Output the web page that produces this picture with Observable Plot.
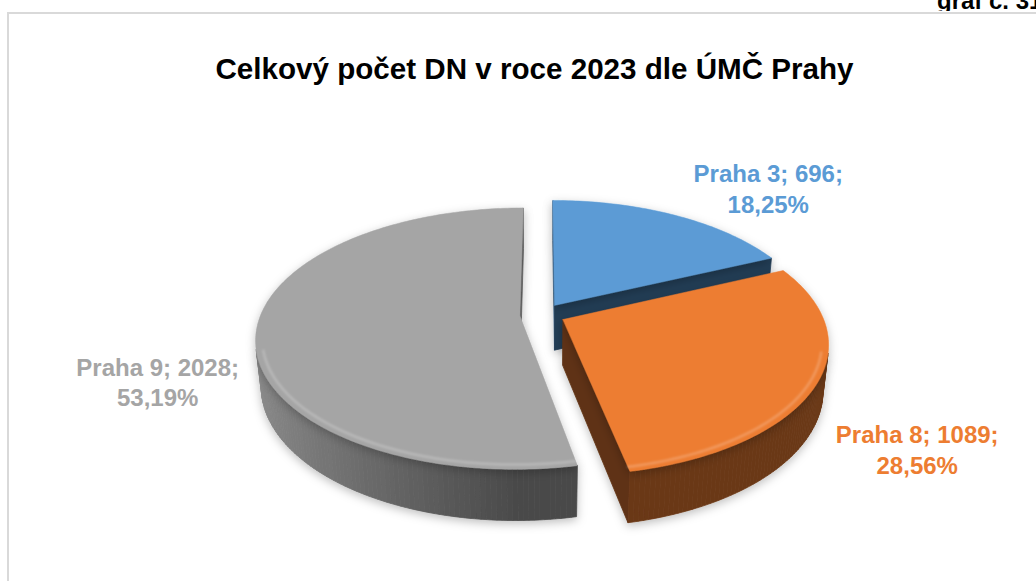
<!DOCTYPE html>
<html><head><meta charset="utf-8">
<script src="https://cdn.jsdelivr.net/npm/d3@7"></script>
<script src="https://cdn.jsdelivr.net/npm/@observablehq/plot@0.6"></script>
<style>
html,body{margin:0;padding:0;background:#fff;}
body{width:1036px;height:581px;overflow:hidden;position:relative;font-family:"Liberation Sans",Arial,sans-serif;}
#box{position:absolute;left:7px;top:12px;width:1200px;height:800px;border:2px solid #d9d9d9;box-sizing:border-box;}
#note{position:absolute;left:937px;top:0;height:11px;width:120px;overflow:hidden;}
#note span{position:absolute;left:0;top:-11px;line-height:24px;font-size:24px;font-weight:bold;color:#000;white-space:nowrap;}
#chart{position:absolute;left:0;top:0;}
</style></head><body>
<div id="box"></div>
<div id="note"><span></span></div>
<div id="chart"></div>
<script>
// ---- data ----
const districts = ["Praha 3", "Praha 8", "Praha 9"];
const counts = [696, 1089, 2028];
const sliceColors = ["#5B9BD5", "#ED7D31", "#A5A5A5"];
const chartTitle = "Celkový počet DN v roce 2023 dle ÚMČ Prahy";
const pageNote = "graf č. 31";

// ---- layout / view ----
const VIEW = {sinPhi: 0.48, dist: 5, depth: 0.2, explode: 0.088, step: Math.PI / 180};
const cosPhi = Math.sqrt(1 - VIEW.sinPhi * VIEW.sinPhi);
const cam = [0, VIEW.dist * VIEW.sinPhi, VIEW.dist * cosPhi];
const labelNudge = {"Praha 3": [94, -2], "Praha 8": [100, 91], "Praha 9": [-99, 78]};
const drawOrder = ["Praha 3", "Praha 9", "Praha 8"];

document.querySelector("#note span").textContent = pageNote;

function project(p) {
  const [X, Y, Z] = p;
  const w = 1 - (Y * VIEW.sinPhi + Z * cosPhi) / VIEW.dist;
  return [X / w, -(Y * cosPhi - Z * VIEW.sinPhi) / w];
}
function facing(normal, pt) {
  const v = [cam[0] - pt[0], cam[1] - pt[1], cam[2] - pt[2]];
  return normal[0] * v[0] + normal[1] * v[1] + normal[2] * v[2] > 0;
}
function shade(color, k) {
  const c = d3.rgb(color);
  return d3.rgb(c.r * k, c.g * k, c.b * k).formatHex();
}

const total = d3.sum(counts);
const arcs = d3.pie().sort(null).value(d => d)(counts);
const fmtPct = v => (v * 100).toFixed(2).replace(".", ",") + "%";

const slices = arcs.map((a, i) => {
  const mid = (a.startAngle + a.endAngle) / 2;
  const c = [VIEW.explode * Math.sin(mid), 0, -VIEW.explode * Math.cos(mid)];
  const rim = (t, Y, r = 1) => [c[0] + r * Math.sin(t), Y, c[2] - r * Math.cos(t)];
  const H = -VIEW.depth;
  const n = Math.max(2, Math.ceil((a.endAngle - a.startAngle) / VIEW.step));
  const ts = d3.range(n + 1).map(j => a.startAngle + (a.endAngle - a.startAngle) * j / n);
  const name = districts[i];
  const col = sliceColors[i];
  const top = [], walls = [], rimLine = [];
  // top face
  const topPts = [[c[0], 0, c[2]], ...ts.map(t => rim(t, 0)), [c[0], 0, c[2]]];
  topPts.forEach(p => { const [x, y] = project(p); top.push({id: name + "-top", x, y, fill: col}); });
  // radial walls
  const radial = [[a.startAngle, a.startAngle - Math.PI / 2], [a.endAngle, a.endAngle + Math.PI / 2]];
  radial.forEach(([t, nt], k) => {
    const nrm = [Math.sin(nt), 0, -Math.cos(nt)];
    if (!facing(nrm, [c[0], H / 2, c[2]])) return;
    const q = [[c[0], 0, c[2]], rim(t, 0), rim(t, H), [c[0], H, c[2]], [c[0], 0, c[2]]];
    const back = Math.cos(t) > 0.9; // thin sliver along the back edge
    const f = shade(col, back ? 0.62 : 0.4);
    q.forEach(p => { const [x, y] = project(p); walls.push({id: name + "-rad" + k, x, y, fill: f}); });
  });
  // outer wall
  for (let j = 0; j < n; j++) {
    const tm = (ts[j] + ts[j + 1]) / 2;
    const nrm = [Math.sin(tm), 0, -Math.cos(tm)];
    if (!facing(nrm, rim(tm, H / 2))) continue;
    const f = shade(col, 0.45 + 0.4 * Math.max(0, -Math.sin(tm)));
    const q = [rim(ts[j], 0), rim(ts[j + 1], 0), rim(ts[j + 1], H), rim(ts[j], H), rim(ts[j], 0)];
    q.forEach(p => { const [x, y] = project(p); walls.push({id: name + "-w" + j, x, y, fill: f}); });
    const [hx, hy] = project(rim(ts[j], 0, 0.975));
    rimLine.push({x: hx, y: hy});
    if (j === n - 1) { const [ex, ey] = project(rim(ts[j + 1], 0, 0.975)); rimLine.push({x: ex, y: ey}); }
  }
  const [lx, ly] = project(rim(mid, 0));
  const label = {name, x: lx, y: ly, text: `${name}; ${counts[i]};\n${fmtPct(counts[i] / total)}`, color: col};
  return {name, top, walls, rimLine, label};
});

const marks = [];
drawOrder.forEach(nm => {
  const s = slices.find(d => d.name === nm);
  marks.push(Plot.line(s.walls, {x: "x", y: "y", z: "id", fill: "fill", stroke: "fill", strokeWidth: 0.8, curve: "linear"}));
  marks.push(Plot.line(s.top, {x: "x", y: "y", z: "id", fill: "fill", stroke: "fill", strokeWidth: 0.5, curve: "linear"}));
  if (s.rimLine.length) marks.push(Plot.line(s.rimLine, {x: "x", y: "y", stroke: "#ffffff", strokeOpacity: 0.22, strokeWidth: 2.5}));
});
slices.forEach(s => {
  const [dx, dy] = labelNudge[s.name];
  marks.push(Plot.text([s.label], {x: "x", y: "y", text: "text", fill: "color", dx, dy,
    textAnchor: "middle", lineAnchor: "bottom", lineHeight: 1.29, fontSize: 24, fontWeight: "bold"}));
});
marks.push(Plot.text([chartTitle], {text: d => d, frameAnchor: "top-left", dx: 534, dy: 78,
  textAnchor: "middle", lineAnchor: "bottom", fontSize: 29.6, fontWeight: "bold", fill: "#000"}));

const cx = 542, cy = 314, Sx = 259, Sy = 263;
const plot = Plot.plot({
  width: 1036, height: 581, margin: 0,
  x: {domain: [-1, 1], range: [cx - Sx, cx + Sx], axis: null},
  y: {domain: [-1, 1], range: [cy - Sy, cy + Sy], axis: null},
  color: {type: "identity"},
  style: {background: "transparent", fontFamily: "'Liberation Sans', Arial, sans-serif", overflow: "visible"},
  marks
});
document.getElementById("chart").appendChild(plot);

// soft shadow like the office chart
const svg = d3.select(plot);
const defs = svg.insert("defs", ":first-child");
const flt = defs.append("filter").attr("id", "pieShadow").attr("x", "-20%").attr("y", "-20%").attr("width", "140%").attr("height", "140%");
flt.append("feDropShadow").attr("dx", 0).attr("dy", 3).attr("stdDeviation", 5).attr("flood-color", "#000").attr("flood-opacity", 0.25);
const blur = defs.append("filter").attr("id", "rimBlur");
blur.append("feGaussianBlur").attr("stdDeviation", 1.2);
svg.selectAll('g[aria-label="line"]').each(function () {
  const g = d3.select(this);
  if (g.attr("stroke") === "#ffffff" || g.attr("stroke") === "white") g.attr("filter", "url(#rimBlur)");
  else g.attr("filter", "url(#pieShadow)");
});
</script>
</body></html>
